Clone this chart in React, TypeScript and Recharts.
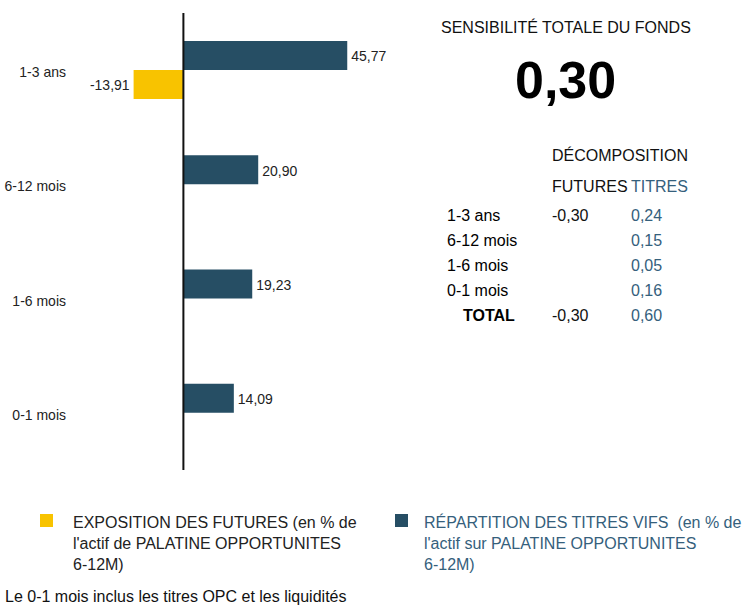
import React from 'react';
import { BarChart, Bar, XAxis, YAxis, ReferenceLine, LabelList } from 'recharts';

const categories = ['1-3 ans', '6-12 mois', '1-6 mois', '0-1 mois'];
const titresValues = [45.77, 20.9, 19.23, 14.09];
const futuresValues: (number | null)[] = [-13.91, null, null, null];

const tableRows = ['1-3 ans', '6-12 mois', '1-6 mois', '0-1 mois'];
const tableFutures = ['-0,30', '', '', ''];
const tableTitres = ['0,24', '0,15', '0,05', '0,16'];
const totalFutures = '-0,30';
const totalTitres = '0,60';
const sensibilite = '0,30';

const BLUE = '#264e64';
const YELLOW = '#f8c300';
const TEXT_BLUE = '#35607c';
const FONT = '"Liberation Sans", Arial, sans-serif';

const data = categories.map((name, i) => ({
  name,
  titres: titresValues[i],
  futures: futuresValues[i],
}));

const fmt = (v: number) => v.toFixed(2).replace('.', ',');

const BarValueLabel = (props: any) => {
  const { x, y, width, height, value } = props;
  if (value === null || value === undefined || value === '') return null;
  const v = Number(value);
  const left = Math.min(x, x + width);
  const right = Math.max(x, x + width);
  const tx = v < 0 ? left - 4 : right + 4;
  return (
    <text
      x={tx}
      y={y + height / 2 + 1}
      textAnchor={v < 0 ? 'end' : 'start'}
      dominantBaseline="central"
      fontSize={14}
      fill="#222"
      fontFamily={FONT}
    >
      {fmt(v)}
    </text>
  );
};

const SCALE = 3.58;
const DOMAIN: [number, number] = [-30, 50];
const YW = 76;
const RIGHT = 60;
const CHART_W = YW + (DOMAIN[1] - DOMAIN[0]) * SCALE + RIGHT;

const abs = (left: number, centerY: number, extra: React.CSSProperties = {}, lh = 20): React.CSSProperties => ({
  position: 'absolute',
  left,
  top: centerY - lh / 2,
  lineHeight: `${lh}px`,
  fontSize: 16,
  whiteSpace: 'nowrap',
  ...extra,
});

export default function App() {
  const rowY = [216, 241, 266, 291];
  return (
    <div style={{ position: 'absolute', left: 0, top: 0, width: 744, height: 606, fontFamily: FONT, color: '#111', background: '#fff', overflow: 'hidden' }}>
      <div style={{ position: 'absolute', left: 0, top: 0 }}>
        <BarChart
          width={CHART_W}
          height={480}
          data={data}
          layout="vertical"
          margin={{ top: 13, right: RIGHT, bottom: 10, left: 0 }}
          barGap={0}
          barSize={29}
        >
          <XAxis type="number" domain={DOMAIN} hide allowDataOverflow />
          <YAxis
            type="category"
            dataKey="name"
            width={YW}
            axisLine={false}
            tickLine={false}
            tickMargin={4}
            tick={{ fontSize: 14, fill: '#222', fontFamily: FONT, dy: 2 }}
          />
          <Bar dataKey="titres" fill={BLUE} isAnimationActive={false}>
            <LabelList dataKey="titres" content={BarValueLabel} />
          </Bar>
          <Bar dataKey="futures" fill={YELLOW} isAnimationActive={false}>
            <LabelList dataKey="futures" content={BarValueLabel} />
          </Bar>
          <ReferenceLine x={0} stroke="#111" strokeWidth={2} />
        </BarChart>
      </div>

      <div style={abs(441, 28, { color: '#111' })}>SENSIBILITÉ TOTALE DU FONDS</div>
      <div style={abs(515, 80, { fontSize: 52, fontWeight: 'bold', color: '#000' }, 56)}>{sensibilite}</div>

      <div style={abs(552, 156, { color: '#111' })}>DÉCOMPOSITION</div>
      <div style={abs(552, 187, { color: '#111' })}>FUTURES</div>
      <div style={abs(631, 187, { color: TEXT_BLUE })}>TITRES</div>

      {tableRows.map((r, i) => (
        <React.Fragment key={r}>
          <div style={abs(447, rowY[i], { color: '#000' })}>{r}</div>
          {tableFutures[i] && <div style={abs(552, rowY[i], { color: '#111' })}>{tableFutures[i]}</div>}
          <div style={abs(631, rowY[i], { color: TEXT_BLUE })}>{tableTitres[i]}</div>
        </React.Fragment>
      ))}
      <div style={abs(463, 316, { color: '#000', fontWeight: 'bold' })}>TOTAL</div>
      <div style={abs(552, 316, { color: '#111' })}>{totalFutures}</div>
      <div style={abs(631, 316, { color: TEXT_BLUE })}>{totalTitres}</div>

      <div style={{ position: 'absolute', left: 40, top: 514, width: 13, height: 13, background: YELLOW }} />
      <div style={{ position: 'absolute', left: 73, top: 512, fontSize: 16, lineHeight: '21px', color: '#222', whiteSpace: 'nowrap' }}>
        EXPOSITION DES FUTURES (en % de<br />l'actif de PALATINE OPPORTUNITES<br />6-12M)
      </div>
      <div style={{ position: 'absolute', left: 395, top: 514, width: 13, height: 13, background: BLUE }} />
      <div style={{ position: 'absolute', left: 424, top: 512, fontSize: 16, lineHeight: '21px', color: TEXT_BLUE, whiteSpace: 'nowrap' }}>
        RÉPARTITION DES TITRES VIFS&nbsp; (en % de<br />l'actif sur PALATINE OPPORTUNITES<br />6-12M)
      </div>

      <div style={abs(5, 597, { color: '#111' })}>Le 0-1 mois inclus les titres OPC et les liquidités</div>
    </div>
  );
}
